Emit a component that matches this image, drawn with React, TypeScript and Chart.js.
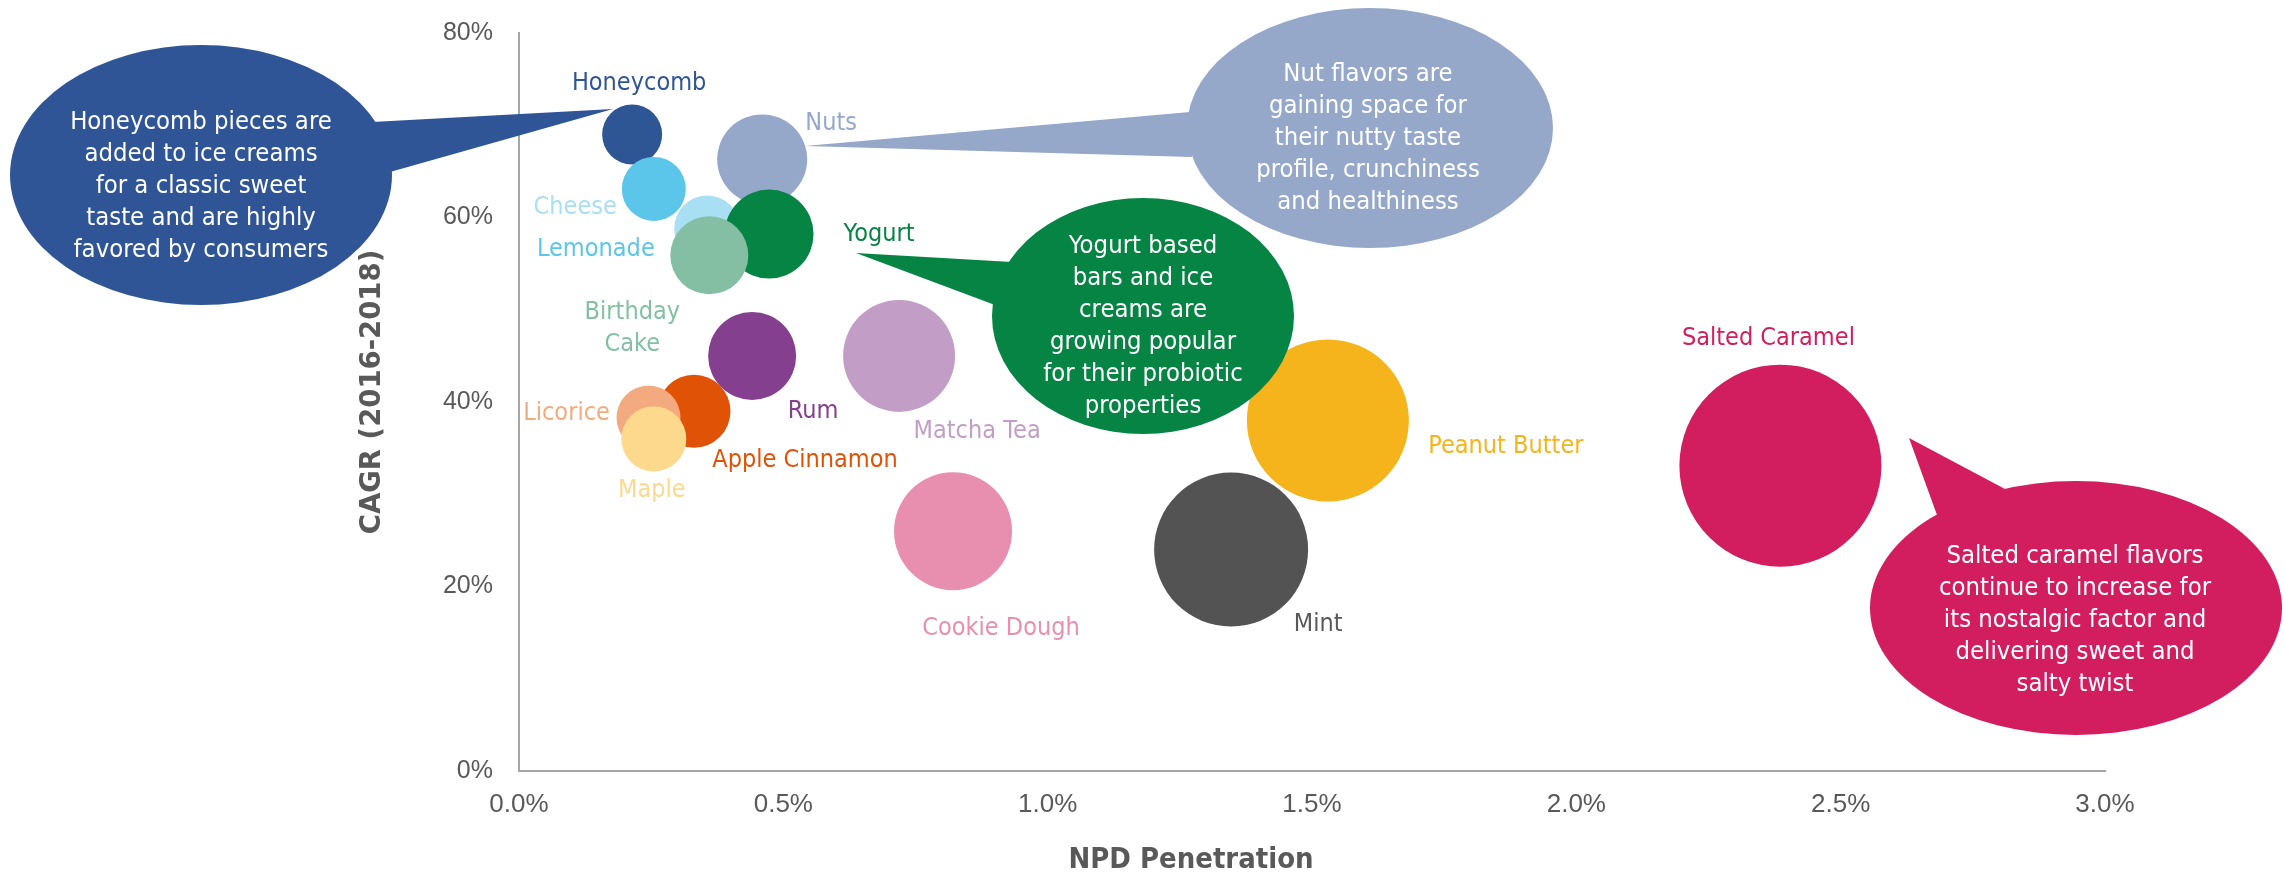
import { useEffect, useRef } from 'react';
import { Chart, registerables } from 'chart.js';

Chart.register(...registerables);

// ---------- DATA ----------
const flavors = [
  'Nuts', 'Cheese', 'Yogurt', 'Birthday Cake', 'Honeycomb', 'Lemonade', 'Rum',
  'Apple Cinnamon', 'Licorice', 'Maple', 'Matcha Tea', 'Cookie Dough',
  'Peanut Butter', 'Mint', 'Salted Caramel',
];
// NPD penetration (%)
const penetration = [0.46, 0.356, 0.473, 0.36, 0.214, 0.255, 0.441, 0.331, 0.245, 0.255, 0.719, 0.821, 1.53, 1.347, 2.386];
// CAGR 2016-2018 (%)
const cagr = [66.3, 58.8, 58.2, 55.9, 69.0, 63.1, 45.0, 39.0, 38.3, 36.0, 45.0, 26.0, 38.0, 24.0, 33.1];
// relative bubble size
const bubbleSize = [4.5, 3.3, 4.45, 3.9, 3.0, 3.2, 4.4, 3.65, 3.2, 3.25, 5.6, 5.9, 8.1, 7.7, 10.1];

const xTickValues = [0, 0.5, 1.0, 1.5, 2.0, 2.5, 3.0];
const yTickValues = [0, 20, 40, 60, 80];

const xAxisTitle = 'NPD Penetration';
const yAxisTitle = 'CAGR (2016-2018)';

const callouts = [
  {
    lines: ['Honeycomb pieces are', 'added to ice creams', 'for a classic sweet', 'taste and are highly', 'favored by consumers'],
  },
  {
    lines: ['Nut flavors are', 'gaining space for', 'their nutty taste', 'profile, crunchiness', 'and healthiness'],
  },
  {
    lines: ['Yogurt based', 'bars and ice', 'creams are', 'growing popular', 'for their probiotic', 'properties'],
  },
  {
    lines: ['Salted caramel flavors', 'continue to increase for', 'its nostalgic factor and', 'delivering sweet and', 'salty twist'],
  },
];

// ---------- STYLE ----------
const bubbleColors = [
  '#95A8C9', '#A8DFF3', '#068444', '#84BFA3', '#2E5594', '#5BC5EA', '#843F8F',
  '#E05206', '#F3AA7E', '#FDD98D', '#C29EC7', '#E88FAF', '#F6B41C', '#535353', '#D21E5E',
];
const labelColors = [
  '#95A8C9', '#A8DFF3', '#068444', '#84BFA3', '#2E5594', '#5BC5EA', '#843F8F',
  '#E05206', '#F3AA7E', '#FDD98D', '#C29EC7', '#E88FAF', '#F6B41C', '#595959', '#D21E5E',
];
// label offset from bubble centre (px)
const labelOffsets: [number, number][] = [
  [69, -36], [-132, -21], [110, 0], [-77, 57], [7, -51], [-58, 61], [61, 56],
  [111, 49], [-82, -4], [-2, 52], [78, 76], [48, 97], [178, 26], [87, 75], [-12, -127],
];
const RADIUS_PER_UNIT = 10;

const calloutStyle = [
  { color: '#2F5597', cx: 201, cy: 175, rx: 191, ry: 130, tail: [[372, 122], [613, 109], [390, 172]], textX: 201, textY: 122 },
  { color: '#95A8C9', cx: 1370, cy: 128, rx: 183, ry: 120, tail: [[1190, 112], [805, 146], [1192, 157]], textX: 1368, textY: 74 },
  { color: '#068444', cx: 1143, cy: 316, rx: 151, ry: 118, tail: [[1012, 262], [856, 253], [995, 305]], textX: 1143, textY: 246 },
  { color: '#D21E5E', cx: 2076, cy: 608, rx: 206, ry: 127, tail: [[2005, 489], [1909, 438], [1937, 515]], textX: 2075, textY: 556 },
];
const LINE_GAP = 32;
const GRAY = '#595959';
const AXIS_GRAY = '#A6A6A6';
const LABEL_FONT = '25px "DejaVu Sans"';
const SX = 0.9;

function drawText(
  ctx: CanvasRenderingContext2D, text: string, x: number, y: number,
  font: string, color: string, sx: number, rotate = 0,
) {
  ctx.save();
  ctx.font = font;
  ctx.fillStyle = color;
  ctx.textAlign = 'center';
  ctx.textBaseline = 'middle';
  ctx.translate(x, y);
  if (rotate) ctx.rotate(rotate);
  ctx.scale(sx, 1);
  ctx.fillText(text, 0, 0);
  ctx.restore();
}

const decorPlugin = {
  id: 'decor',
  afterDatasetsDraw(chart: any) {
    const ctx: CanvasRenderingContext2D = chart.ctx;
    const meta = chart.getDatasetMeta(0);
    // bubble labels
    flavors.forEach((name, i) => {
      const el = meta.data[i];
      if (!el) return;
      const [dx, dy] = labelOffsets[i];
      const parts = name === 'Birthday Cake' ? ['Birthday', 'Cake'] : [name];
      parts.forEach((p, k) => {
        drawText(ctx, p, el.x + dx, el.y + dy + k * LINE_GAP, LABEL_FONT, labelColors[i], SX);
      });
    });
    // axis titles
    drawText(ctx, xAxisTitle, 1191, 861, 'bold 28px "DejaVu Sans"', GRAY, 0.93);
    drawText(ctx, yAxisTitle, 373, 392, 'bold 27.5px "DejaVu Sans"', GRAY, 1, -Math.PI / 2);
  },
  afterDraw(chart: any) {
    const ctx: CanvasRenderingContext2D = chart.ctx;
    callouts.forEach((c, i) => {
      const s = calloutStyle[i];
      ctx.save();
      ctx.fillStyle = s.color;
      ctx.beginPath();
      ctx.ellipse(s.cx, s.cy, s.rx, s.ry, 0, 0, Math.PI * 2);
      ctx.fill();
      ctx.beginPath();
      ctx.moveTo(s.tail[0][0], s.tail[0][1]);
      ctx.lineTo(s.tail[1][0], s.tail[1][1]);
      ctx.lineTo(s.tail[2][0], s.tail[2][1]);
      ctx.closePath();
      ctx.fill();
      ctx.restore();
      c.lines.forEach((line, k) => {
        drawText(ctx, line, s.textX, s.textY + k * LINE_GAP, LABEL_FONT, '#FFFFFF', 0.915);
      });
    });
  },
};

export default function App() {
  const ref = useRef<HTMLCanvasElement | null>(null);

  useEffect(() => {
    if (!ref.current) return;
    const chart = new Chart(ref.current, {
      type: 'bubble',
      data: {
        datasets: [
          {
            label: 'Flavors',
            data: flavors.map((_, i) => ({ x: penetration[i], y: cagr[i], r: bubbleSize[i] * RADIUS_PER_UNIT })),
            backgroundColor: bubbleColors,
            borderWidth: 0,
            hoverRadius: 0,
            clip: false as any,
          },
        ],
      },
      options: {
        animation: false,
        responsive: false,
        devicePixelRatio: 1,
        events: [],
        layout: { autoPadding: false, padding: { left: 0, right: 179, top: 33, bottom: 0 } },
        plugins: { legend: { display: false }, tooltip: { enabled: false } },
        scales: {
          x: {
            type: 'linear',
            min: 0,
            max: 3,
            afterBuildTicks: (scale: any) => { scale.ticks = xTickValues.map((v) => ({ value: v })); },
            ticks: {
              callback: (v: any) => Number(v).toFixed(1) + '%',
              font: { family: '"Liberation Sans", Arial, sans-serif', size: 26 },
              color: GRAY,
              padding: 18,
              maxRotation: 0,
              autoSkip: false,
            },
            grid: { display: false, drawTicks: false },
            border: { display: true, color: AXIS_GRAY, width: 2 },
            afterFit: (scale: any) => {
              scale.height = 106;
              scale.paddingLeft = 0; scale.paddingRight = 0; scale.paddingTop = 0; scale.paddingBottom = 0;
            },
          },
          y: {
            type: 'linear',
            min: 0,
            max: 80,
            afterBuildTicks: (scale: any) => { scale.ticks = yTickValues.map((v) => ({ value: v })); },
            ticks: {
              callback: (v: any) => v + '%',
              font: { family: '"Liberation Sans", Arial, sans-serif', size: 25 },
              color: GRAY,
              padding: 26,
              autoSkip: false,
            },
            grid: { display: false, drawTicks: false },
            border: { display: true, color: AXIS_GRAY, width: 2 },
            afterFit: (scale: any) => {
              scale.width = 519;
              scale.paddingLeft = 0; scale.paddingRight = 0; scale.paddingTop = 0; scale.paddingBottom = 0;
            },
          },
        },
      },
      plugins: [decorPlugin],
    });
    return () => chart.destroy();
  }, []);

  return (
    <div style={{ position: 'fixed', left: 0, top: 0, width: 2284, height: 877, background: '#FFFFFF' }}>
      <canvas ref={ref} width={2284} height={877} style={{ display: 'block', width: 2284, height: 877 }} />
    </div>
  );
}
